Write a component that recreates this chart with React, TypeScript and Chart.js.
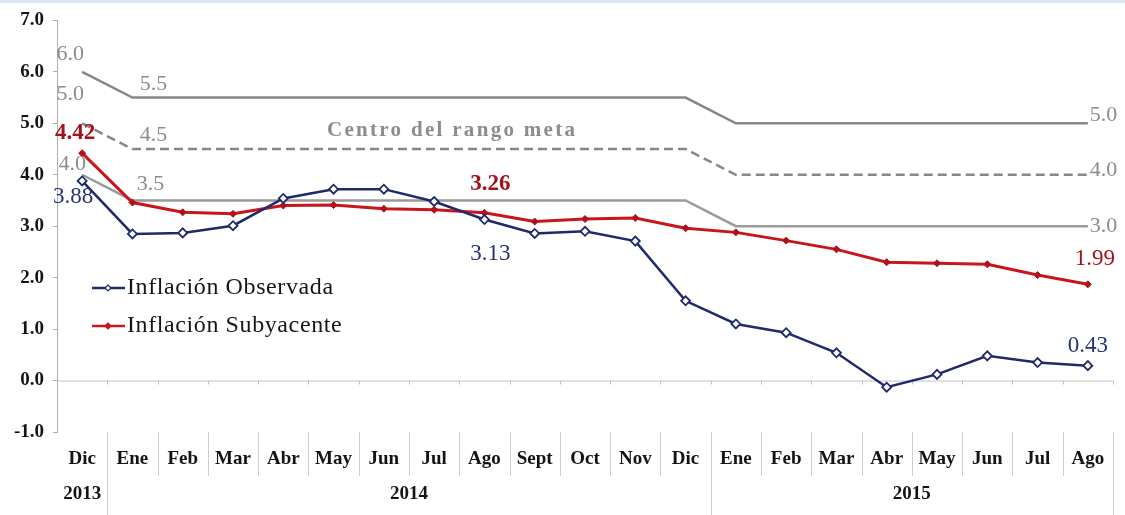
import React, { useEffect, useRef } from 'react';
import { Chart, registerables } from 'chart.js';

Chart.register(...registerables);

const months = ['Dic', 'Ene', 'Feb', 'Mar', 'Abr', 'May', 'Jun', 'Jul', 'Ago', 'Sept', 'Oct', 'Nov', 'Dic', 'Ene', 'Feb', 'Mar', 'Abr', 'May', 'Jun', 'Jul', 'Ago'];
const years = ['2013', '2014', '2015'];
const yearStart = [0, 1, 13];
const yearEnd = [0, 12, 20];

const observada = [3.88, 2.85, 2.87, 3.01, 3.54, 3.72, 3.72, 3.48, 3.13, 2.86, 2.90, 2.71, 1.55, 1.10, 0.93, 0.54, -0.13, 0.12, 0.48, 0.35, 0.29];
const subyacente = [4.42, 3.46, 3.27, 3.24, 3.40, 3.41, 3.34, 3.32, 3.26, 3.09, 3.14, 3.16, 2.96, 2.88, 2.72, 2.55, 2.30, 2.28, 2.26, 2.05, 1.87];
const rangoSuperior = [6.0, 5.5, 5.5, 5.5, 5.5, 5.5, 5.5, 5.5, 5.5, 5.5, 5.5, 5.5, 5.5, 5.0, 5.0, 5.0, 5.0, 5.0, 5.0, 5.0, 5.0];
const rangoCentro = [5.0, 4.5, 4.5, 4.5, 4.5, 4.5, 4.5, 4.5, 4.5, 4.5, 4.5, 4.5, 4.5, 4.0, 4.0, 4.0, 4.0, 4.0, 4.0, 4.0, 4.0];
const rangoInferior = [4.0, 3.5, 3.5, 3.5, 3.5, 3.5, 3.5, 3.5, 3.5, 3.5, 3.5, 3.5, 3.5, 3.0, 3.0, 3.0, 3.0, 3.0, 3.0, 3.0, 3.0];

const yMin = -1;
const yMax = 7;

const seriesNames = ['Inflación Observada', 'Inflación Subyacente'];
const centroText = 'Centro del rango meta';

const BLUE = '#1f2a6b';
const BLUE_TXT = '#26336f';
const RED = '#c8161d';
const RED_TXT = '#a3121a';
const GRAY = '#878787';
const GRAY_LIGHT = '#9a9a9a';
const GRAY_TXT = '#8c8c8c';
const SERIF = '"Liberation Serif", "Times New Roman", serif';

type Ann = { text: string; series: number[]; i: number; dx: number; dy: number; color: string; font: string; align: CanvasTextAlign; spacing?: string };

const annotations: Ann[] = [
  { text: '6.0', series: rangoSuperior, i: 0, dx: -12, dy: -18, color: GRAY_TXT, font: `22px ${SERIF}`, align: 'center' },
  { text: '5.0', series: rangoCentro, i: 0, dx: -12, dy: -29, color: GRAY_TXT, font: `22px ${SERIF}`, align: 'center' },
  { text: '4.0', series: rangoInferior, i: 0, dx: -10, dy: -11, color: GRAY_TXT, font: `22px ${SERIF}`, align: 'center' },
  { text: '4.42', series: subyacente, i: 0, dx: -7, dy: -20, color: RED_TXT, font: `bold 23px ${SERIF}`, align: 'center' },
  { text: '3.88', series: observada, i: 0, dx: -9, dy: 16, color: BLUE_TXT, font: `23px ${SERIF}`, align: 'center' },
  { text: '5.5', series: rangoSuperior, i: 1, dx: 21, dy: -13, color: GRAY_TXT, font: `22px ${SERIF}`, align: 'center' },
  { text: '4.5', series: rangoCentro, i: 1, dx: 21, dy: -14, color: GRAY_TXT, font: `22px ${SERIF}`, align: 'center' },
  { text: '3.5', series: rangoInferior, i: 1, dx: 18, dy: -16, color: GRAY_TXT, font: `22px ${SERIF}`, align: 'center' },
  { text: centroText, series: rangoCentro, i: 7, dx: 18, dy: -18, color: GRAY_TXT, font: `bold 21px ${SERIF}`, align: 'center', spacing: '2.3px' },
  { text: '3.26', series: subyacente, i: 8, dx: 6, dy: -29, color: RED_TXT, font: `bold 23px ${SERIF}`, align: 'center' },
  { text: '3.13', series: observada, i: 8, dx: 6, dy: 34, color: BLUE_TXT, font: `23px ${SERIF}`, align: 'center' },
  { text: '5.0', series: rangoSuperior, i: 20, dx: 2, dy: -8, color: GRAY_TXT, font: `22px ${SERIF}`, align: 'left' },
  { text: '4.0', series: rangoCentro, i: 20, dx: 2, dy: -5, color: GRAY_TXT, font: `22px ${SERIF}`, align: 'left' },
  { text: '3.0', series: rangoInferior, i: 20, dx: 2, dy: 0, color: GRAY_TXT, font: `22px ${SERIF}`, align: 'left' },
  { text: '1.99', series: subyacente, i: 20, dx: -13, dy: -25, color: RED_TXT, font: `23px ${SERIF}`, align: 'left' },
  { text: '0.43', series: observada, i: 20, dx: -20, dy: -20, color: BLUE_TXT, font: `23px ${SERIF}`, align: 'left' },
];

const drawDiamond = (ctx: CanvasRenderingContext2D, x: number, y: number, r: number, fill: string, stroke: string) => {
  ctx.beginPath();
  ctx.moveTo(x, y - r);
  ctx.lineTo(x + r, y);
  ctx.lineTo(x, y + r);
  ctx.lineTo(x - r, y);
  ctx.closePath();
  ctx.fillStyle = fill;
  ctx.fill();
  ctx.strokeStyle = stroke;
  ctx.lineWidth = 1.2;
  ctx.stroke();
};

const customPlugin = {
  id: 'customDecor',
  beforeDatasetsDraw(chart: any) {
    const { ctx, chartArea, scales } = chart;
    const x = scales.x;
    const y = scales.y;
    const step = (chartArea.right - chartArea.left) / months.length;
    const y0 = y.getPixelForValue(0);
    ctx.save();
    ctx.strokeStyle = '#c4c4c4';
    ctx.lineWidth = 1;
    ctx.beginPath();
    ctx.moveTo(chartArea.left, y0 + 0.5);
    ctx.lineTo(chartArea.right, y0 + 0.5);
    for (let k = 1; k <= months.length; k++) {
      const bx = Math.round(x.getPixelForValue(k - 1) + step / 2) + 0.5;
      ctx.moveTo(bx, y0);
      ctx.lineTo(bx, y0 + 4);
    }
    ctx.stroke();
    ctx.restore();
  },
  afterDraw(chart: any) {
    const { ctx, chartArea, scales } = chart;
    const x = scales.x;
    const y = scales.y;
    const step = (chartArea.right - chartArea.left) / months.length;
    const bottom = chartArea.bottom;
    ctx.save();
    const yearBounds = new Set<number>();
    yearStart.forEach((s) => yearBounds.add(s));
    yearEnd.forEach((e) => yearBounds.add(e + 1));
    ctx.strokeStyle = '#cfcfcf';
    ctx.lineWidth = 1;
    for (let k = 1; k <= months.length; k++) {
      const bx = Math.round(x.getPixelForValue(k - 1) + step / 2) + 0.5;
      ctx.beginPath();
      ctx.moveTo(bx, bottom);
      ctx.lineTo(bx, yearBounds.has(k) ? 515 : bottom + 44);
      ctx.stroke();
    }
    ctx.fillStyle = '#141414';
    ctx.font = `bold 19px ${SERIF}`;
    ctx.textAlign = 'center';
    ctx.textBaseline = 'middle';
    months.forEach((m, i) => {
      ctx.fillText(m, x.getPixelForValue(i), bottom + 27);
    });
    years.forEach((yr, j) => {
      const cx = (x.getPixelForValue(yearStart[j]) + x.getPixelForValue(yearEnd[j])) / 2;
      ctx.fillText(yr, cx, bottom + 62);
    });
    annotations.forEach((a) => {
      ctx.font = a.font;
      ctx.fillStyle = a.color;
      ctx.textAlign = a.align;
      ctx.textBaseline = 'middle';
      (ctx as any).letterSpacing = a.spacing || '0px';
      ctx.fillText(a.text, x.getPixelForValue(a.i) + a.dx, y.getPixelForValue(a.series[a.i]) + a.dy);
    });
    const legendItems = [
      { name: seriesNames[0], color: BLUE, y: 288, fill: '#ffffff' },
      { name: seriesNames[1], color: RED, y: 326, fill: RED },
    ];
    legendItems.forEach((it) => {
      (ctx as any).letterSpacing = '0px';
      ctx.strokeStyle = it.color;
      ctx.lineWidth = 2.5;
      ctx.beginPath();
      ctx.moveTo(92, it.y);
      ctx.lineTo(125, it.y);
      ctx.stroke();
      drawDiamond(ctx, 108, it.y, 3, it.fill, it.color);
      ctx.fillStyle = '#161616';
      ctx.font = `24px ${SERIF}`;
      ctx.textAlign = 'left';
      ctx.textBaseline = 'middle';
      (ctx as any).letterSpacing = '0.6px';
      ctx.fillText(it.name, 127, it.y);
    });
    (ctx as any).letterSpacing = '0px';
    ctx.restore();
  },
};

export default function App() {
  const canvasRef = useRef<HTMLCanvasElement | null>(null);

  useEffect(() => {
    if (!canvasRef.current) return;
    const chart = new Chart(canvasRef.current, {
      type: 'line',
      data: {
        labels: months,
        datasets: [
          {
            label: seriesNames[0],
            data: observada,
            borderColor: BLUE,
            borderWidth: 2.5,
            pointStyle: 'rectRot',
            pointRadius: 4.5,
            pointBackgroundColor: '#ffffff',
            pointBorderColor: BLUE,
            pointBorderWidth: 1.8,
            tension: 0,
          },
          {
            label: seriesNames[1],
            data: subyacente,
            borderColor: RED,
            borderWidth: 3,
            pointStyle: 'rectRot',
            pointRadius: 3.5,
            pointBackgroundColor: '#b0101a',
            pointBorderColor: '#b0101a',
            pointBorderWidth: 1,
            tension: 0,
          },
          {
            label: 'Superior',
            data: rangoSuperior,
            borderColor: GRAY,
            borderWidth: 2.5,
            pointRadius: 0,
            tension: 0,
          },
          {
            label: 'Centro',
            data: rangoCentro,
            borderColor: GRAY,
            borderWidth: 2.5,
            borderDash: [9, 5],
            pointRadius: 0,
            tension: 0,
          },
          {
            label: 'Inferior',
            data: rangoInferior,
            borderColor: GRAY_LIGHT,
            borderWidth: 2.5,
            pointRadius: 0,
            tension: 0,
          },
        ],
      },
      options: {
        animation: false,
        responsive: false,
        maintainAspectRatio: false,
        layout: { padding: { top: 18, right: 12, left: 0, bottom: 0 } },
        plugins: {
          legend: { display: false },
          tooltip: { enabled: false },
        },
        scales: {
          x: {
            offset: true,
            grid: { display: false },
            border: { display: false },
            ticks: { display: false },
            afterFit: (scale: any) => {
              scale.height = 83;
            },
          },
          y: {
            min: yMin,
            max: yMax,
            ticks: {
              stepSize: 1,
              color: '#141414',
              font: { family: SERIF, size: 19, weight: 'bold' },
              padding: 9,
              callback: (v: any) => Number(v).toFixed(1),
            },
            grid: { drawOnChartArea: false, drawTicks: true, tickLength: 4, tickColor: '#b0b0b0' },
            border: { display: true, color: '#b0b0b0', width: 1 },
            afterFit: (scale: any) => {
              scale.width = 57;
            },
          },
        },
      },
      plugins: [customPlugin],
    });
    return () => chart.destroy();
  }, []);

  return (
    <div style={{ position: 'fixed', left: 0, top: 0, width: 1125, height: 515, background: '#ffffff' }}>
      <div style={{ position: 'absolute', left: 0, top: 0, width: 1125, height: 3, background: '#dce6f1' }} />
      <canvas ref={canvasRef} width={1125} height={515} style={{ display: 'block' }} />
    </div>
  );
}
